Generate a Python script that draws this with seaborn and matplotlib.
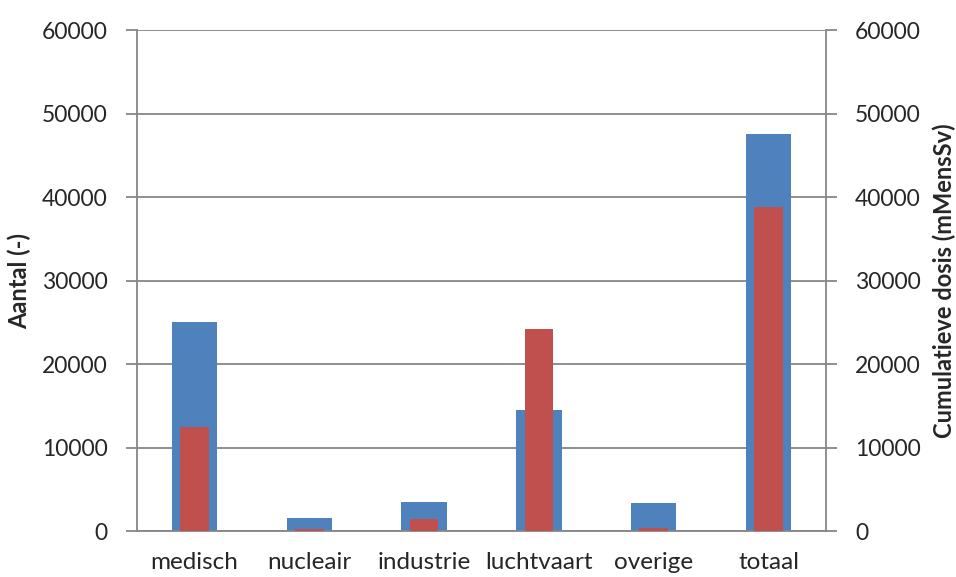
import matplotlib
matplotlib.use("Agg")
import matplotlib.pyplot as plt
import pandas as pd
import seaborn as sns

# Values
categories = ["medisch", "nucleair", "industrie", "luchtvaart", "overige", "totaal"]
aantal = [25000, 1600, 3500, 14450, 3400, 47600]
dosis = [12400, 300, 1400, 24250, 350, 38800]

df = pd.DataFrame({"categorie": categories, "aantal": aantal, "dosis": dosis})

sns.set_style("white")
plt.rcParams["font.family"] = ["Lato", "DejaVu Sans"]

grey = "#868686"

fig = plt.figure(figsize=(9.56, 5.77), dpi=100)
ax = fig.add_axes([0.1433, 0.0797, 0.864 - 0.1433, 0.948 - 0.0797])
ax2 = ax.twinx()

sns.barplot(data=df, x="categorie", y="aantal", color="#4F81BD", width=0.395,
            saturation=1, errorbar=None, linewidth=0, ax=ax, zorder=2)
sns.barplot(data=df, x="categorie", y="dosis", color="#C0504D", width=0.25,
            saturation=1, errorbar=None, linewidth=0, ax=ax2, zorder=2)

for a in (ax, ax2):
    a.set_ylim(0, 60000)
    a.set_yticks(range(0, 60001, 10000))
    a.set_xlim(-0.5, 5.5)
    for s in a.spines.values():
        s.set_visible(False)

ax.yaxis.grid(True, color=grey, linewidth=1.3, zorder=0)
ax.set_axisbelow(True)
for name in ("left", "bottom"):
    ax.spines[name].set_visible(True)
    ax.spines[name].set_color(grey)
    ax.spines[name].set_linewidth(1.3)
ax2.spines["right"].set_visible(True)
ax2.spines["right"].set_color(grey)
ax2.spines["right"].set_linewidth(1.3)

# category separators as minor ticks on the x axis
ax.set_xticks([i - 0.5 for i in range(7)], minor=True)
ax.tick_params(axis="x", which="minor", length=8, width=1.3, color=grey, direction="out")
ax.tick_params(axis="x", which="major", length=0, pad=15, labelsize=17.5)
ax.tick_params(axis="y", length=8, width=1.3, color=grey, direction="out",
               labelsize=16.5, pad=13)
ax2.tick_params(axis="y", length=8, width=1.3, color=grey, direction="out",
                labelsize=16.5, pad=13)

ax.set_xlabel("")
ax.set_ylabel("Aantal (-)", fontsize=17, fontweight="bold", labelpad=8)
ax2.set_ylabel("Cumulatieve dosis (mMensSv)", fontsize=17, fontweight="bold",
               rotation=90, labelpad=8)

fig.savefig("out.png", dpi=100)
